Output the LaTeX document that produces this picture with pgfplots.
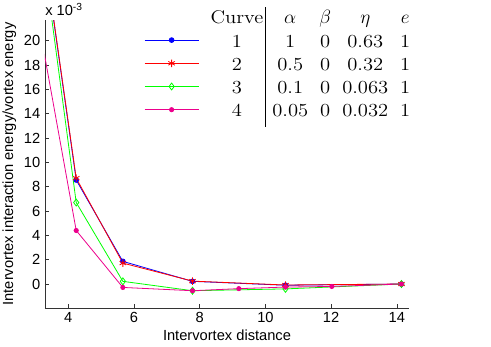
\documentclass[border=0pt]{standalone}
\usepackage{fontspec}
\setmainfont{Liberation Sans}
\newfontfamily\lmr[FakeStretch=1.12]{Latin Modern Roman}
\usepackage{pgfplots}
\pgfplotsset{compat=1.18}
\pgfplotsset{
    long line legend/.style={legend image code/.code={%
        \draw[mark repeat=2,mark phase=2,##1] plot coordinates {(0cm,0cm) (0.71cm,0cm) (1.42cm,0cm)};}},
}

% one legend row: curve no. | alpha beta eta e
\newcommand{\legrow}[5]{\rule{0pt}{11.9pt}\makebox[44pt]{#1}\hspace{3pt}\makebox[30pt]{#2}\makebox[22.5pt]{#3}\makebox[37.5pt]{#4}\makebox[22.5pt]{#5}}

\begin{document}
\begin{tikzpicture}
\begin{axis}[
    name=ax,
    scale only axis, width=273pt, height=216pt,
    xmin=3.29, xmax=14.37, ymin=-1.97, ymax=21.7,
    axis x line*=bottom, axis y line*=left,
    axis line style={black!80, line width=0.5pt},
    xtick={4,6,...,14}, ytick={0,2,...,20},
    tick align=inside, major tick length=3pt,
    tick style={black!80, line width=0.4pt},
    /pgf/number format/assume math mode=true,
    ticklabel style={font=\fontsize{11}{13}\selectfont},
    label style={font=\fontsize{11}{13}\selectfont},
    xlabel={Intervortex distance},
    ylabel={Intervortex interaction energy/vortex energy},
    xlabel style={yshift=2pt},
    ylabel style={yshift=-1pt},
    long line legend,
    legend cell align=left,
    legend style={draw=none, fill=none, inner xsep=0pt, inner ysep=0pt,
        at={(axis description cs:0.272,1.052)}, anchor=north west,
        font=\lmr\fontsize{13.8}{16}\selectfont,
        /tikz/column sep=4.5pt, /tikz/row sep=0pt},
]
\addlegendimage{empty legend}
\addlegendentry{\legrow{Curve}{$\alpha$}{$\beta$}{$\eta$}{$e$}}

\addplot[color=blue, line width=0.6pt, mark=*, mark size=1.8pt] coordinates {
    (2.83,35.5) (4.24,8.55) (5.66,1.86) (7.78,0.22) (10.61,-0.10) (14.14,0)
};
\addlegendentry{\legrow{1}{1}{0}{0.63}{1}}

\addplot[color=red, line width=0.6pt, mark=asterisk, mark size=2.8pt] coordinates {
    (2.83,35.6) (4.24,8.70) (5.66,1.72) (7.78,0.24) (10.61,-0.08) (14.14,0)
};
\addlegendentry{\legrow{2}{0.5}{0}{0.32}{1}}

\addplot[color=green, line width=0.6pt, mark=diamond, mark size=2.6pt] coordinates {
    (2.83,35.3) (4.24,6.70) (5.66,0.22) (7.78,-0.55) (10.61,-0.40) (14.14,0)
};
\addlegendentry{\legrow{3}{0.1}{0}{0.063}{1}}

\addplot[color=magenta, line width=0.6pt, mark=*, mark size=1.6pt] coordinates {
    (2.83,25.5) (4.24,4.40) (5.66,-0.28) (7.78,-0.55) (9.19,-0.38) (10.61,-0.25) (12.02,-0.20) (14.14,0)
};
\addlegendentry{\legrow{4}{0.05}{0}{0.032}{1}}
\end{axis}
% scale factor label and the rule in the legend table
\node[anchor=base west, font=\fontsize{11}{13}\selectfont, inner sep=0pt]
    at ([shift={(0pt,219.5pt)}]ax.south west) {x 10\textsuperscript{-3}};
\draw[line width=0.5pt] ([shift={(165pt,135.75pt)}]ax.south west) -- ++(0,90pt);
\pgfresetboundingbox
\useasboundingbox ([shift={(-33.75pt,-29.25pt)}]ax.south west) rectangle ([shift={(61.5pt,15pt)}]ax.north east);
\end{tikzpicture}
\end{document}
